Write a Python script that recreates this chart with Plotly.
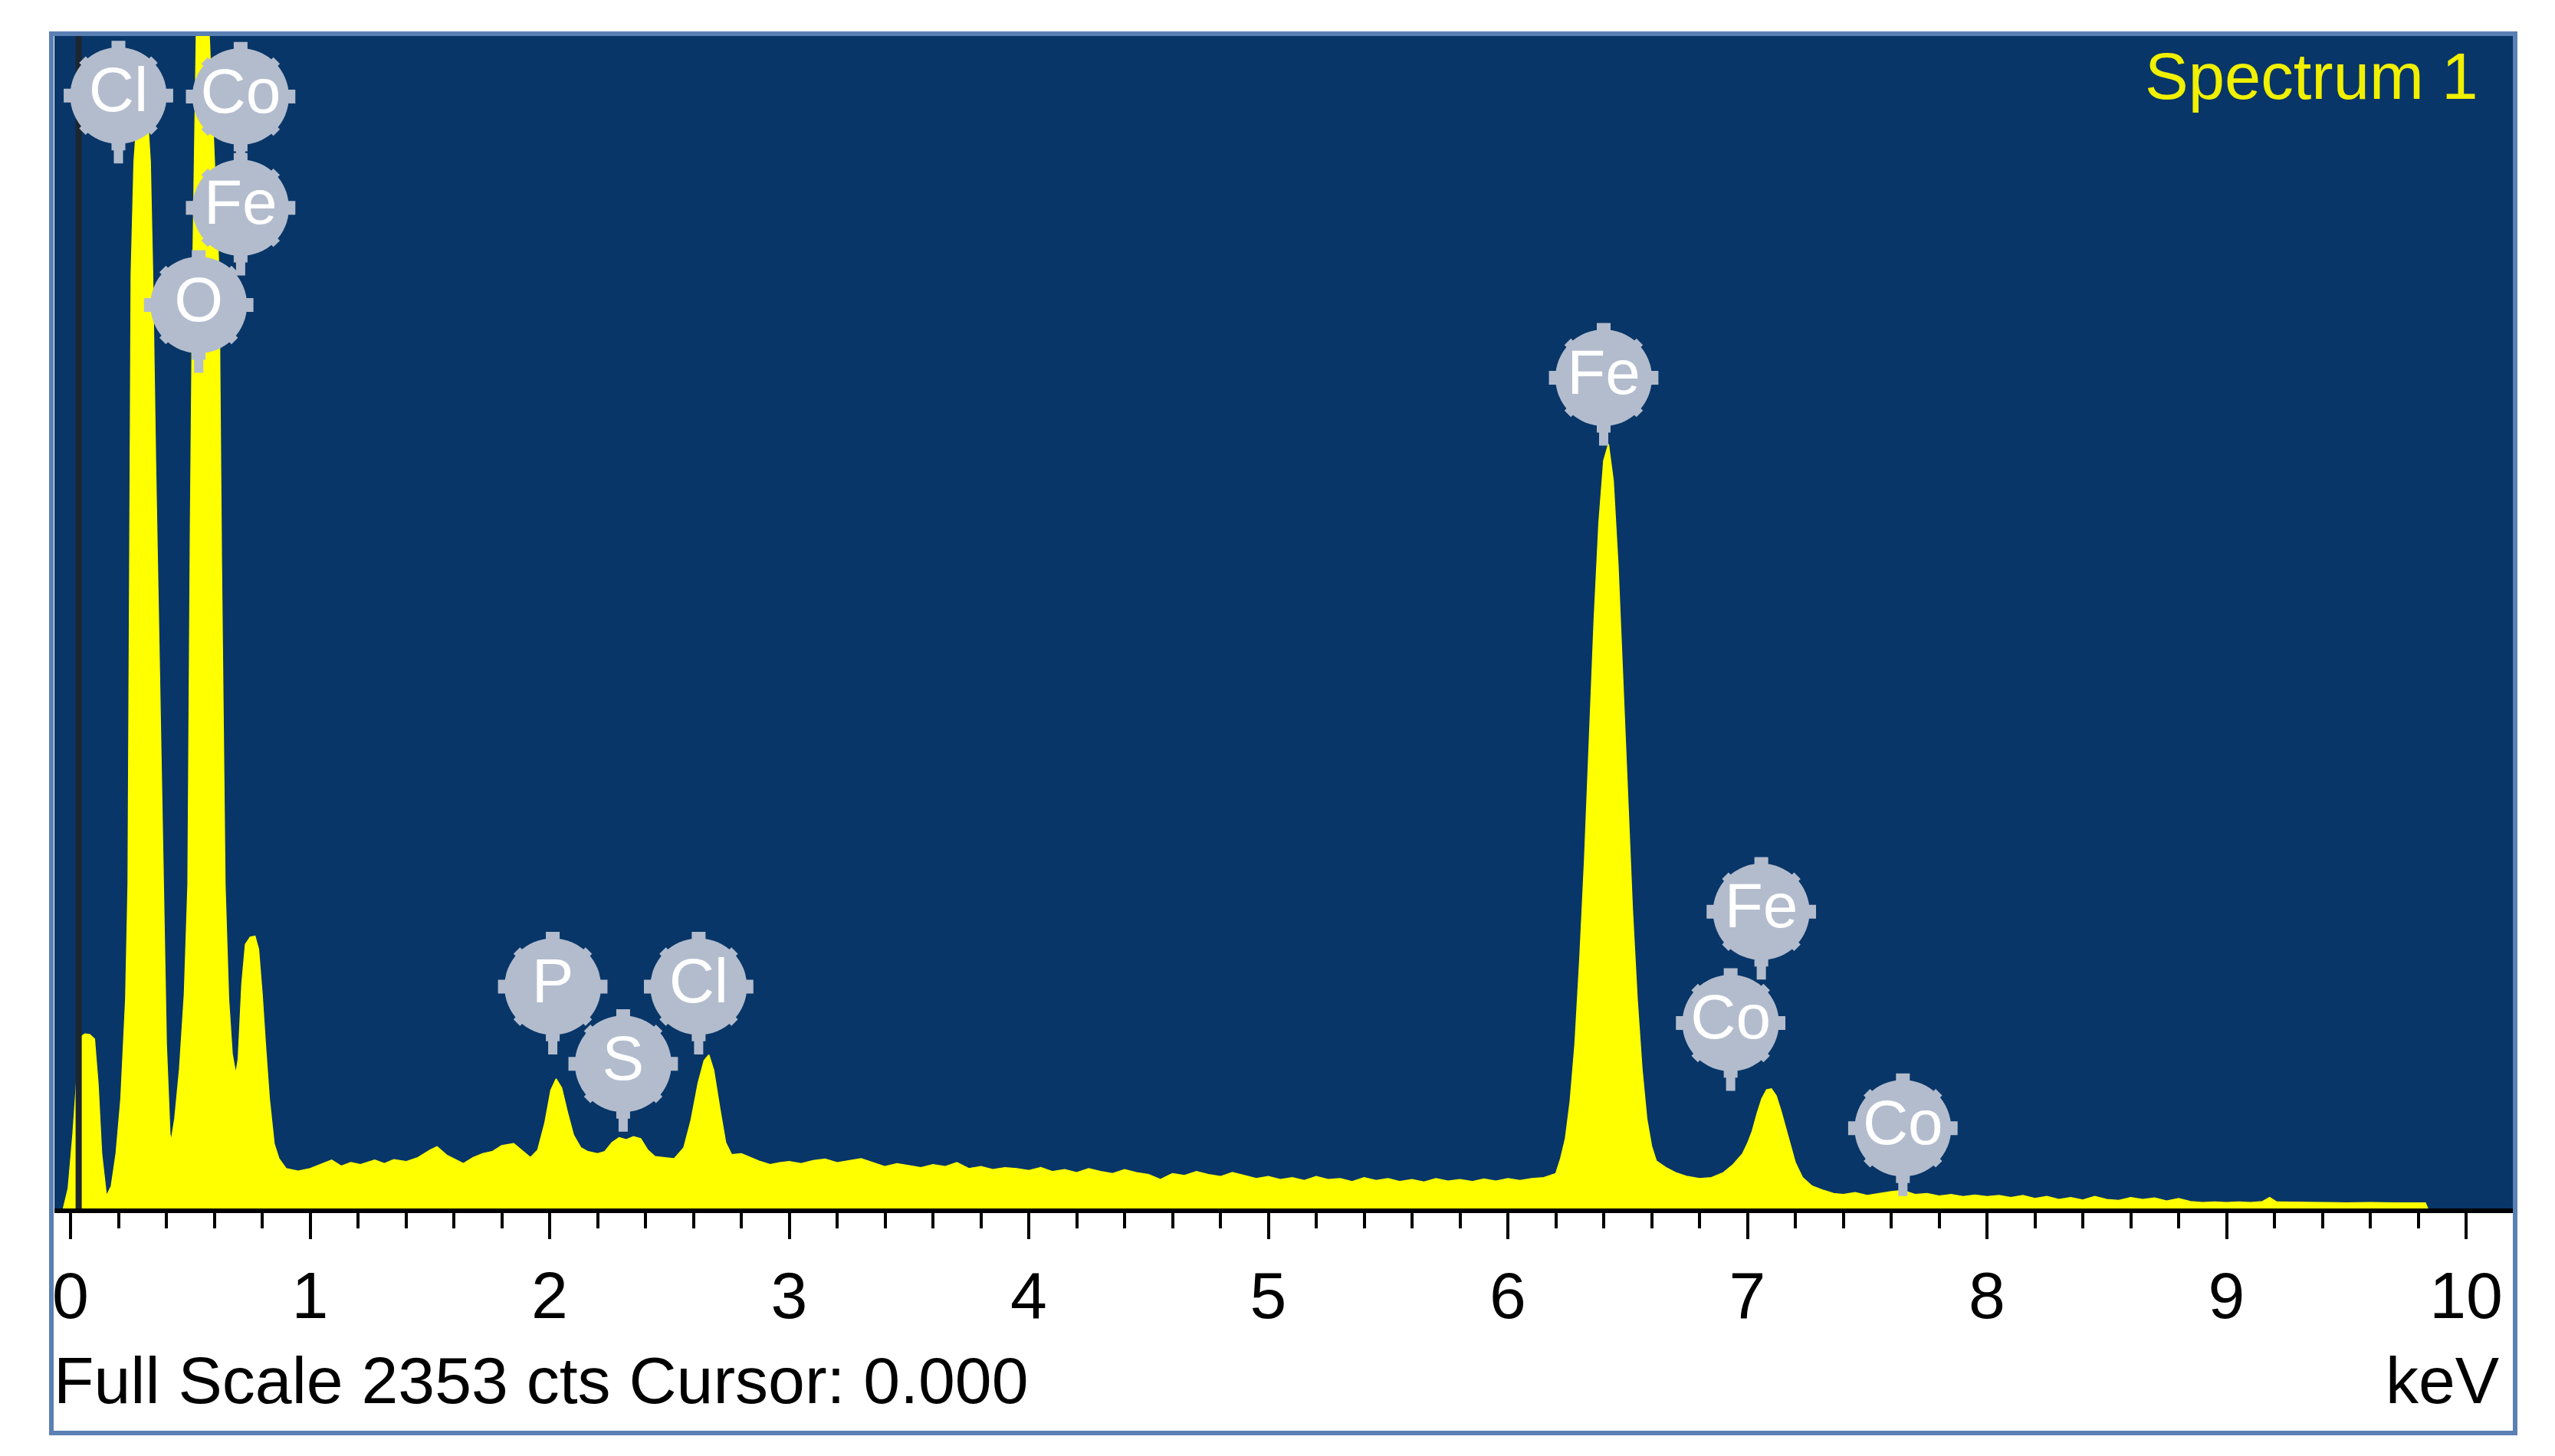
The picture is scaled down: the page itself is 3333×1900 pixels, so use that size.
import plotly.graph_objects as go

# ---------------- data ----------------
energy_kev = [
    -0.03, -0.01, 0.01, 0.03, 0.045, 0.06, 0.08, 0.10, 0.115, 0.13, 0.15, 0.17, 0.19, 0.21,
    0.23, 0.24, 0.247, 0.253, 0.265, 0.28, 0.30, 0.32, 0.333, 0.343, 0.355, 0.37, 0.386,
    0.40, 0.415, 0.42, 0.435, 0.455, 0.475, 0.49, 0.50, 0.51, 0.525, 0.55, 0.579, 0.60,
    0.62, 0.63, 0.645, 0.66, 0.675, 0.69, 0.70, 0.715, 0.73, 0.75, 0.77, 0.785, 0.80,
    0.815, 0.83, 0.85, 0.87, 0.90,
    0.95, 1.00, 1.05, 1.09, 1.13, 1.17, 1.21, 1.27, 1.31, 1.35, 1.40, 1.45, 1.50, 1.53,
    1.57, 1.61, 1.64, 1.68, 1.72, 1.76, 1.80, 1.85, 1.89, 1.92,
    1.95, 1.98, 2.005, 2.027, 2.05, 2.075, 2.10, 2.13, 2.16, 2.20, 2.23, 2.26, 2.29,
    2.32, 2.35, 2.38, 2.41, 2.44, 2.48, 2.52, 2.56, 2.59, 2.62, 2.645, 2.665, 2.685,
    2.71, 2.735, 2.76, 2.80, 2.84, 2.88, 2.92, 2.96,
    3.00, 3.05, 3.10, 3.15, 3.20, 3.25, 3.30, 3.35, 3.40, 3.45, 3.50, 3.55, 3.60, 3.65,
    3.70, 3.75, 3.80, 3.85, 3.90, 3.95, 4.00, 4.05, 4.10, 4.15, 4.20, 4.25, 4.30, 4.35,
    4.40, 4.45, 4.50, 4.55, 4.60, 4.65, 4.70, 4.75, 4.80, 4.85, 4.90, 4.95, 5.00, 5.05,
    5.10, 5.15, 5.20, 5.25, 5.30, 5.35, 5.40, 5.45, 5.50, 5.55, 5.60, 5.65, 5.70, 5.75,
    5.80, 5.85, 5.90, 5.95, 6.00, 6.05, 6.10, 6.15,
    6.20, 6.22, 6.24, 6.26, 6.28, 6.30, 6.32, 6.34, 6.36, 6.38, 6.40, 6.42, 6.44, 6.46,
    6.48, 6.50, 6.52, 6.54, 6.56, 6.58, 6.60, 6.62, 6.66, 6.70, 6.75, 6.80, 6.85, 6.90,
    6.94, 6.98, 7.00, 7.02, 7.04, 7.06, 7.08, 7.10, 7.12, 7.14, 7.16, 7.18, 7.20, 7.23,
    7.27, 7.32, 7.36, 7.40, 7.45, 7.50, 7.55, 7.60, 7.65, 7.70, 7.75, 7.80, 7.85, 7.90,
    7.95, 8.00, 8.05, 8.10, 8.15, 8.20, 8.25, 8.30, 8.35, 8.40, 8.45, 8.50, 8.55, 8.60,
    8.65, 8.70, 8.75, 8.80, 8.85, 8.90, 8.95, 9.00, 9.05, 9.10, 9.15, 9.18, 9.21, 9.30,
    9.40, 9.50, 9.60, 9.70, 9.80, 9.83, 9.84,
]
counts = [
    0, 40, 150, 290, 345, 350, 349, 340, 250, 110, 25, 45, 110, 220,
    420, 650, 1300, 1873, 2100, 2200, 2260, 2200, 2100, 1873, 1500, 1100, 650,
    330, 150, 135, 180, 280, 430, 650, 1350, 1873, 2353, 2800, 2353, 2100,
    1873, 1300, 650, 420, 310, 270, 300, 450, 530, 544, 546, 520, 430,
    320, 220, 130, 100, 80,
    75, 80, 90, 97, 85, 92, 88, 97, 90, 98, 94, 102, 117, 124,
    107, 97, 90, 102, 110, 114, 126, 130, 114, 102,
    117, 172, 237, 260, 242, 192, 147, 122, 114, 110, 114, 132, 142,
    138, 144, 140, 117, 104, 102, 100, 122, 177, 252, 297, 308, 277,
    202, 132, 108, 110, 102, 94, 88, 92,
    94, 90, 96, 99, 92, 96, 100, 92, 84, 90, 86, 82, 88, 84,
    92, 80, 84, 78, 82, 80, 76, 82, 74, 78, 72, 80, 74, 70,
    78, 72, 68, 58, 70, 66, 74, 68, 64, 72, 66, 60, 64, 58,
    62, 56, 64, 58, 60, 54, 62, 56, 60, 54, 58, 53, 60, 55,
    58, 54, 59, 55, 60, 56, 60, 62,
    70, 100, 140, 215, 330, 500, 700, 940, 1180, 1375, 1500, 1533, 1460, 1290,
    1060, 820, 600, 420, 280, 180, 125, 95, 82, 72, 64, 60, 62, 72,
    88, 110, 130, 155, 190, 220, 238, 240, 226, 196, 160, 124, 92, 62,
    45, 36, 30, 28, 32, 26, 30, 34, 36, 28, 30, 25, 28, 24,
    27, 24, 26, 22, 26, 20, 24, 18, 22, 17, 24, 18, 16, 22,
    18, 21, 15, 20, 14, 12, 13, 12, 13, 12, 14, 22, 13, 12,
    12, 11, 12, 11, 11, 11, 0,
]

# element markers: symbol, energy (keV), bubble centre height (cts)
label_text = ["Cl", "Co", "Fe", "O", "P", "S", "Cl", "Fe", "Fe", "Co", "Co"]
label_kev = [0.20, 0.71, 0.71, 0.535, 2.013, 2.307, 2.622, 6.40, 7.058, 6.930, 7.649]
label_cts = [2232, 2230, 2007, 1812, 445, 290, 445, 1666, 595, 372, 161]
stem_cts = 136  # stem length below bubble centre

full_scale = 2353
cursor_kev = 0.034
x_ticks = list(range(0, 11))
spectrum_name = "Spectrum 1"
footer_left = "Full Scale 2353 cts Cursor: 0.000"
footer_right = "keV"

# ---------------- styling ----------------
W, H = 3333, 1900
L, R, T, B = 63, 63, 38, 331
ZERO_PX = 84          # pixel column of 0 keV
PX_PER_KEV = 312.5
NAVY = "#083668"
YELLOW = "#ffff00"
BUBBLE = "#b3bccd"
FONT = "Liberation Sans, Arial, sans-serif"

pw = W - L - R
ph = H - T - B


def px2paper_x(px):
    return (px - L) / pw


def px2paper_y(py):
    return (H - B - py) / ph


fig = go.Figure()

# spectrum
fig.add_trace(go.Scatter(
    x=energy_kev, y=counts, mode="lines", fill="tozeroy",
    fillcolor=YELLOW, line=dict(color=YELLOW, width=1.5),
    hoverinfo="skip", showlegend=False,
))

# cursor line
fig.add_trace(go.Scatter(
    x=[cursor_kev, cursor_kev], y=[0, full_scale], mode="lines",
    line=dict(color="#1c2630", width=8), hoverinfo="skip", showlegend=False,
))

# stems
sx, sy = [], []
for e, c in zip(label_kev, label_cts):
    sx += [e, e, None]
    sy += [c, c - stem_cts, None]
fig.add_trace(go.Scatter(
    x=sx, y=sy, mode="lines", line=dict(color=BUBBLE, width=12),
    hoverinfo="skip", showlegend=False,
))

# gear knobs
for sym, size, lw in [("line-ns", 102, 18), ("line-ew", 102, 18), ("x-thin", 94, 12)]:
    fig.add_trace(go.Scatter(
        x=label_kev, y=label_cts, mode="markers",
        marker=dict(symbol=sym, size=size, line=dict(color=BUBBLE, width=lw)),
        cliponaxis=False, hoverinfo="skip", showlegend=False,
    ))

# bubbles with text
fig.add_trace(go.Scatter(
    x=label_kev, y=label_cts, mode="markers+text", text=label_text,
    textposition="middle center",
    textfont=dict(family=FONT, size=82, color="white"),
    marker=dict(symbol="circle", size=126, color=BUBBLE, line=dict(width=0)),
    cliponaxis=False, hoverinfo="skip", showlegend=False,
))

x_lo = (L - ZERO_PX) / PX_PER_KEV
x_hi = (W - R - ZERO_PX) / PX_PER_KEV

fig.update_layout(
    width=W, height=H,
    margin=dict(l=L, r=R, t=T, b=B),
    paper_bgcolor="white", plot_bgcolor=NAVY,
    showlegend=False,
    xaxis=dict(
        range=[x_lo, x_hi], tickmode="array", tickvals=x_ticks,
        ticktext=[str(v) for v in x_ticks],
        showgrid=False, zeroline=False,
        showline=True, linecolor="black", linewidth=6,
        ticks="outside", ticklen=34, tickwidth=4, tickcolor="black",
        tickfont=dict(family=FONT, size=86, color="black"),
        ticklabelstandoff=0,
        minor=dict(dtick=0.2, tick0=0, ticks="outside", ticklen=20, tickwidth=4,
                   tickcolor="black", showgrid=False),
    ),
    yaxis=dict(
        range=[0, full_scale], showgrid=False, zeroline=False,
        showticklabels=False, showline=False, ticks="",
    ),
    annotations=[
        dict(text=spectrum_name, xref="paper", yref="paper",
             x=px2paper_x(3227), y=px2paper_y(92), xanchor="right", yanchor="middle",
             showarrow=False, font=dict(family=FONT, size=85, color="#f0f000")),
        dict(text=footer_left, xref="paper", yref="paper",
             x=px2paper_x(60), y=px2paper_y(1793), xanchor="left", yanchor="middle",
             showarrow=False, font=dict(family=FONT, size=86, color="black")),
        dict(text=footer_right, xref="paper", yref="paper",
             x=px2paper_x(3254), y=px2paper_y(1793), xanchor="right", yanchor="middle",
             showarrow=False, font=dict(family=FONT, size=86, color="black")),
    ],
    shapes=[
        dict(type="rect", xref="paper", yref="paper", layer="above",
             x0=px2paper_x(59), x1=px2paper_x(3273),
             y0=px2paper_y(1862), y1=px2paper_y(36),
             line=dict(color="#5a80b4", width=6), fillcolor="rgba(0,0,0,0)"),
    ],
)

fig.write_html("out.html")
